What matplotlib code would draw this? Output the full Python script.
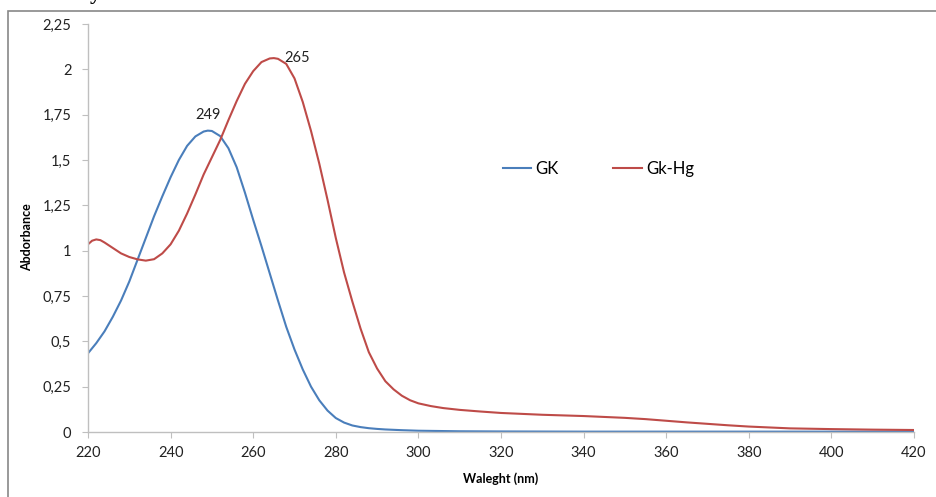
import matplotlib
matplotlib.use("Agg")
import matplotlib.pyplot as plt
from matplotlib.patches import Rectangle
from matplotlib.ticker import FuncFormatter

# GK spectrum (nm, absorbance)
gk_nm = [220, 222, 224, 226, 228, 230, 232, 234, 236, 238, 240, 242, 244, 246,
         248, 249, 250, 252, 254, 256, 258, 260, 262, 264, 266, 268, 270, 272,
         274, 276, 278, 280, 282, 284, 286, 288, 290, 292, 296, 300, 310, 320,
         340, 360, 380, 400, 420]
gk_abs = [0.434, 0.49, 0.555, 0.635, 0.725, 0.83, 0.95, 1.07, 1.19, 1.30, 1.405,
          1.50, 1.578, 1.63, 1.657, 1.662, 1.66, 1.632, 1.565, 1.46, 1.32, 1.17,
          1.025, 0.875, 0.725, 0.58, 0.455, 0.345, 0.25, 0.175, 0.118, 0.077,
          0.052, 0.036, 0.027, 0.021, 0.017, 0.014, 0.01, 0.007, 0.004, 0.003,
          0.002, 0.002, 0.002, 0.002, 0.002]

# Gk-Hg spectrum
hg_nm = [220, 221, 222, 223, 224, 226, 228, 230, 232, 234, 236, 238, 240, 242,
         244, 246, 248, 250, 252, 254, 256, 258, 260, 262, 264, 265, 266, 268,
         270, 272, 274, 276, 278, 280, 282, 284, 286, 288, 290, 292, 294, 296,
         298, 300, 303, 306, 310, 315, 320, 330, 340, 350, 355, 360, 365, 370,
         375, 380, 390, 400, 410, 420]
hg_abs = [1.035, 1.055, 1.062, 1.058, 1.045, 1.015, 0.985, 0.965, 0.952, 0.945,
          0.953, 0.985, 1.035, 1.11, 1.205, 1.31, 1.42, 1.515, 1.61, 1.72, 1.825,
          1.92, 1.99, 2.04, 2.06, 2.062, 2.058, 2.03, 1.95, 1.82, 1.66, 1.48,
          1.28, 1.07, 0.88, 0.72, 0.57, 0.44, 0.35, 0.28, 0.235, 0.20, 0.175,
          0.158, 0.143, 0.132, 0.122, 0.113, 0.105, 0.095, 0.088, 0.078, 0.071,
          0.062, 0.053, 0.045, 0.037, 0.03, 0.02, 0.016, 0.013, 0.011]

peak_labels = [(249, 1.662, "249"), (265, 2.062, "265")]

x_ticks = list(range(220, 421, 20))
y_ticks = [0, 0.25, 0.5, 0.75, 1, 1.25, 1.5, 1.75, 2, 2.25]

plt.rcParams["font.family"] = ["Lato", "DejaVu Sans"]

blue = "#4a7ebb"
red = "#be4b48"
grey = "#bfbfbf"

fig = plt.figure(figsize=(9.36, 4.97), dpi=100)
ax = fig.add_axes([88 / 936, 1 - 432 / 497, 826 / 936, 408 / 497])

ax.plot(gk_nm, gk_abs, color=blue, lw=1.5, label="GK", solid_joinstyle="round")
ax.plot(hg_nm, hg_abs, color=red, lw=1.5, label="Gk-Hg", solid_joinstyle="round")

ax.annotate(peak_labels[0][2], xy=peak_labels[0][:2], xytext=(0, 11),
            textcoords="offset points", ha="center", va="center",
            fontsize=10.5, color="#222222")
ax.annotate(peak_labels[1][2], xy=peak_labels[1][:2], xytext=(17, 0),
            textcoords="offset points", ha="center", va="center",
            fontsize=10.5, color="#222222")

ax.set_xlim(220, 420)
ax.set_ylim(0, 2.25)
ax.set_xticks(x_ticks)
ax.set_yticks(y_ticks)
ax.yaxis.set_major_formatter(FuncFormatter(lambda v, p: ("%g" % v).replace(".", ",")))

for s in ["top", "right"]:
    ax.spines[s].set_visible(False)
for s in ["left", "bottom"]:
    ax.spines[s].set_color(grey)
    ax.spines[s].set_linewidth(1.0)
ax.tick_params(axis="both", direction="out", length=4, color=grey,
               labelsize=10.5, labelcolor="#222222")
ax.tick_params(axis="x", pad=6)
ax.tick_params(axis="y", pad=8)

ax.set_xlabel("Waleght (nm)", fontsize=9, fontweight="bold", labelpad=9)
ax.set_ylabel("Abdorbance", fontsize=9, fontweight="bold")
ax.yaxis.set_label_coords(-55 / 826, (432 - 237) / 408)

ax.legend(loc="center left", bbox_to_anchor=(0.502, 0.645), ncol=2,
          frameon=False, fontsize=12, handlelength=1.7, handletextpad=0.25,
          columnspacing=3.3, borderpad=0, borderaxespad=0)

# outer frame of the pasted chart
fig.add_artist(Rectangle((8 / 936, -0.1), 1.2, 1.1 - 11 / 497, transform=fig.transFigure,
                         fill=False, edgecolor="#888888", lw=1.2))
# clipped caption from above the chart (only its descender shows)
fig.text(95 / 936, 1.0 + 1 / 497, "y", fontsize=16, fontweight="bold",
         family="Liberation Serif", ha="center", va="baseline")

fig.savefig("out.png", dpi=100)
